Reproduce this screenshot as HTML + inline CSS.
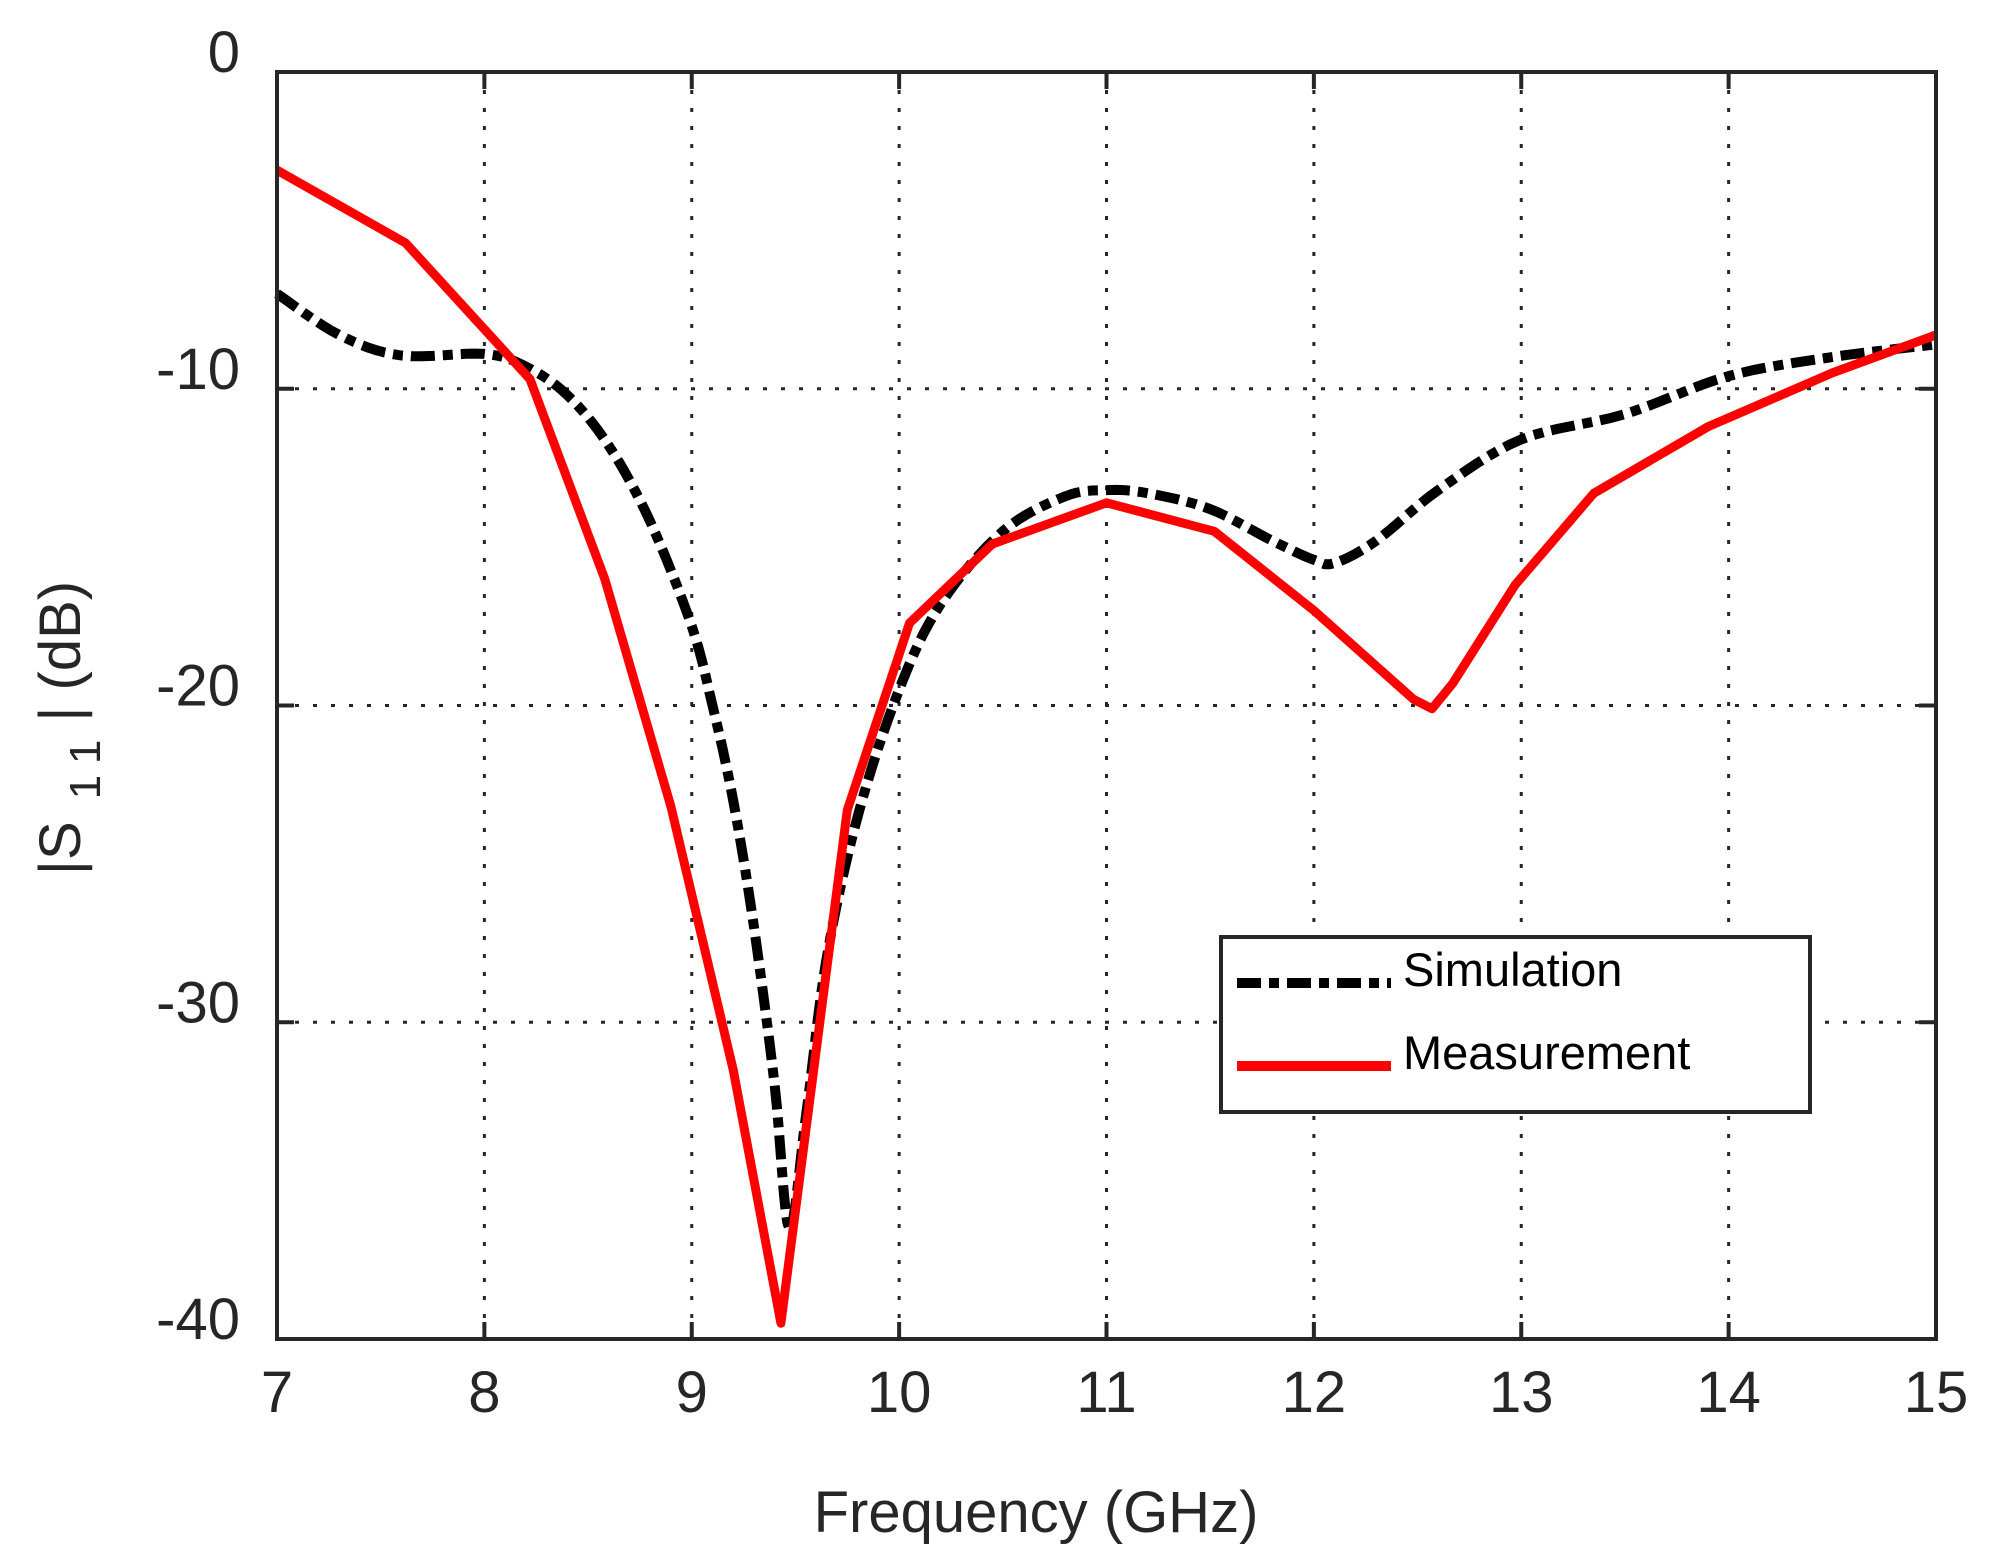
<!DOCTYPE html>
<html><head><meta charset="utf-8"><style>body{margin:0;background:#fff}svg{display:block}</style></head>
<body>
<svg id="s" width="1990" height="1557" xmlns="http://www.w3.org/2000/svg" font-family="Liberation Sans, Arial, sans-serif">
<rect width="1990" height="1557" fill="#fff"/>
<g id="grid" stroke="#262626" stroke-width="3" stroke-dasharray="4 14" fill="none"></g>
<g id="series" fill="none" stroke-linejoin="round"></g>
<rect x="277" y="72" width="1659" height="1267" fill="none" stroke="#262626" stroke-width="4"/>
<g id="ticks" font-size="58" fill="#262626"></g>
<text x="1036" y="1532" font-size="58" fill="#262626" text-anchor="middle">Frequency (GHz)</text>
<text transform="translate(80,728) rotate(-90)" font-size="58" fill="#262626" text-anchor="middle">|S<tspan dx="22" dy="20" font-size="44">1</tspan><tspan dx="14" font-size="44">1</tspan><tspan dx="18" dy="-20">|</tspan> (dB)</text>
<rect x="1221" y="937" width="589" height="175" fill="#fff" stroke="#262626" stroke-width="4"/>
<line x1="1237" y1="983" x2="1391" y2="983" stroke="#000" stroke-width="10" stroke-dasharray="24 8 10 8"/>
<line x1="1237" y1="1066" x2="1391" y2="1066" stroke="#f00" stroke-width="10"/>
<text x="1403" y="986" font-size="47" fill="#000">Simulation</text>
<text x="1403" y="1069" font-size="47" fill="#000">Measurement</text>
</svg>
<script>
const X=f=>277+(f-7)*207.375, Y=d=>72-d*31.675;
const NS="http://www.w3.org/2000/svg";
function el(p,t,a,txt){const e=document.createElementNS(NS,t);for(const k in a)e.setAttribute(k,a[k]);if(txt!==undefined)e.textContent=txt;document.getElementById(p).appendChild(e);return e;}
for(let f=8;f<15;f++)el('grid','line',{x1:X(f),y1:72,x2:X(f),y2:1339});
for(let d=-10;d>-40;d-=10)el('grid','line',{x1:277,y1:Y(d),x2:1936,y2:Y(d)});
for(let f=7;f<=15;f++){el('ticks','text',{x:X(f),y:1412,'text-anchor':'middle'},String(f));
 if(f>7&&f<15){el('ticks','line',{x1:X(f),y1:1339,x2:X(f),y2:1322,stroke:'#262626','stroke-width':4});el('ticks','line',{x1:X(f),y1:72,x2:X(f),y2:89,stroke:'#262626','stroke-width':4});}}
for(let d=0;d>=-40;d-=10){el('ticks','text',{x:240,y:Y(d),'text-anchor':'end'},String(d));
 if(d<0&&d>-40){el('ticks','line',{x1:277,y1:Y(d),x2:294,y2:Y(d),stroke:'#262626','stroke-width':4});el('ticks','line',{x1:1936,y1:Y(d),x2:1919,y2:Y(d),stroke:'#262626','stroke-width':4});}}
const sim=[[7,-7],[7.3,-8.3],[7.6,-8.95],[8,-8.9],[8.2,-9.3],[8.4,-10.2],[8.6,-11.8],[8.8,-14.2],[9,-17.5],[9.1,-20],[9.2,-23],[9.3,-27],[9.4,-32],[9.47,-36.5],[9.55,-33],[9.65,-28],[9.8,-23.5],[10,-19.5],[10.2,-16.8],[10.5,-14.5],[10.8,-13.4],[11,-13.2],[11.2,-13.3],[11.5,-13.8],[11.8,-14.8],[12,-15.4],[12.1,-15.5],[12.3,-14.8],[12.6,-13.2],[13,-11.6],[13.5,-10.8],[14,-9.6],[14.5,-9],[15,-8.6]];
const mea=[[7,-3.1],[7.62,-5.4],[8.22,-9.7],[8.58,-16],[8.9,-23.2],[9.2,-31.5],[9.43,-39.5],[9.75,-23.3],[10.05,-17.4],[10.45,-14.9],[11,-13.6],[11.52,-14.5],[12,-17],[12.48,-19.8],[12.57,-20.1],[12.67,-19.3],[12.97,-16.2],[13.35,-13.3],[13.9,-11.2],[14.5,-9.5],[15,-8.3]];
function smooth(a){const P=a.map(p=>[X(p[0]),Y(p[1])]);const out=[];for(let i=0;i<P.length-1;i++){const p0=P[Math.max(i-1,0)],p1=P[i],p2=P[i+1],p3=P[Math.min(i+2,P.length-1)];for(let k=0;k<8;k++){const t=k/8,t2=t*t,t3=t2*t;out.push([0,1].map(j=>0.5*((2*p1[j])+(-p0[j]+p2[j])*t+(2*p0[j]-5*p1[j]+4*p2[j]-p3[j])*t2+(-p0[j]+3*p1[j]-3*p2[j]+p3[j])*t3)));}}out.push(P[P.length-1]);return out.map(p=>p[0].toFixed(1)+','+p[1].toFixed(1)).join(' ');}
const pts=a=>a.map(p=>X(p[0]).toFixed(1)+','+Y(p[1]).toFixed(1)).join(' ');
el('series','polyline',{points:smooth(sim),stroke:'#000','stroke-width':10,'stroke-dasharray':'24 8 10 8'});
el('series','polyline',{points:pts(mea),stroke:'#f00','stroke-width':9});
</script>
</body></html>
